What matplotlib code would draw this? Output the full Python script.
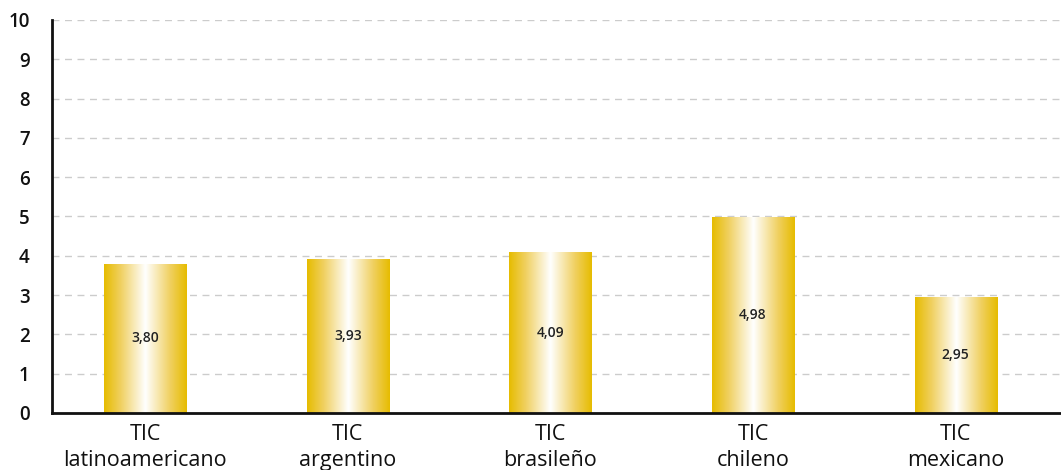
import numpy as np
import matplotlib
matplotlib.use("Agg")
import matplotlib.pyplot as plt
from matplotlib.colors import LinearSegmentedColormap

categories = ["TIC\nlatinoamericano", "TIC\nargentino", "TIC\nbrasileño", "TIC\nchileno", "TIC\nmexicano"]
values = [3.80, 3.93, 4.09, 4.98, 2.95]
value_labels = ["3,80", "3,93", "4,09", "4,98", "2,95"]
yticks = list(range(0, 11))

plt.rcParams['font.family'] = ['Open Sans', 'DejaVu Sans']

fig = plt.figure(figsize=(10.61, 4.70), dpi=100)
ax = fig.add_axes([52/1061, 57/470, 1 - 52/1061, 393/470])

x = np.arange(len(categories))
bars = ax.bar(x, values, width=0.405, color='none', edgecolor='none', zorder=3)

cmap = LinearSegmentedColormap.from_list(
    "gold", [(0.0, "#E6BC00"), (0.2, "#F0D060"), (0.5, "#FFFFFF"), (0.8, "#F0D060"), (1.0, "#E6BC00")])
grad = np.linspace(0, 1, 256).reshape(1, -1)
for b in bars:
    x0, y0 = b.get_x(), b.get_y()
    w, h = b.get_width(), b.get_height()
    im = ax.imshow(grad, cmap=cmap, aspect='auto', extent=[x0, x0 + w, y0, y0 + h], zorder=3,
                   interpolation='bilinear')
    im.set_clip_path(b)

for xi, v, lab in zip(x, values, value_labels):
    ax.text(xi, v / 2, lab, ha='center', va='center', fontsize=10, fontweight='semibold',
            color='#222222', zorder=5)

ax.set_xlim(-0.46, 4.52)
ax.set_ylim(0, 10)
ax.set_yticks(yticks)
ax.set_yticklabels([str(t) for t in yticks], fontsize=13.5, fontweight='semibold', color='#111111')
ax.set_xticks(x)
ax.set_xticklabels(categories, fontsize=15.5, color='#111111', linespacing=1.3)
ax.tick_params(axis='both', length=0)
ax.tick_params(axis='y', pad=16)
ax.tick_params(axis='x', pad=8)

ax.yaxis.grid(True, linestyle=(0, (5, 4)), color='#cccccc', linewidth=1.0, zorder=0)
ax.set_axisbelow(True)
for s in ['top', 'right']:
    ax.spines[s].set_visible(False)
for s in ['left', 'bottom']:
    ax.spines[s].set_linewidth(2)
    ax.spines[s].set_color('#111111')
    ax.spines[s].set_zorder(6)

fig.savefig("out.png", dpi=100)
